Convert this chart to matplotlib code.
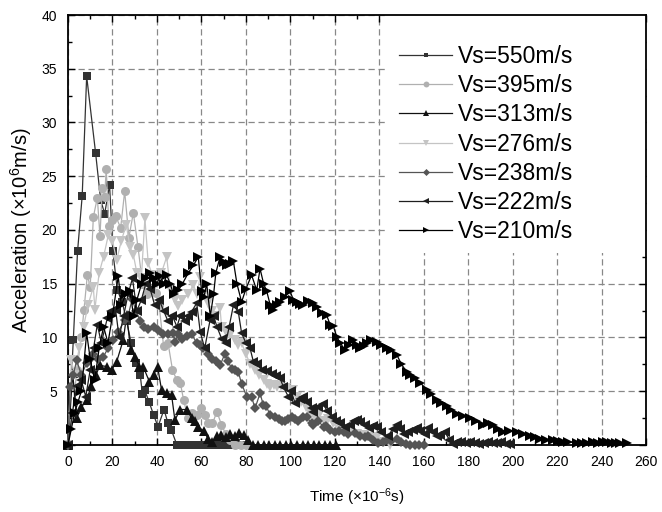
import matplotlib
matplotlib.use("Agg")
import matplotlib.pyplot as plt
import matplotlib.patches as patches
from matplotlib.ticker import MultipleLocator

plt.rcParams['font.family'] = ['Liberation Sans', 'DejaVu Sans']
plt.rcParams['mathtext.fontset'] = 'custom'
plt.rcParams['mathtext.rm'] = 'Liberation Sans'
plt.rcParams['mathtext.it'] = 'Liberation Sans:italic'

# Vs = 550 m/s
t550 = [0, 2.4, 4.3, 6.4, 8.4, 12.4, 14.7, 16.5, 18.7, 20.2, 22.2, 24.4, 26.4, 28.4, 30.4,
        32.5, 33.5, 34.5, 36.5, 38.5, 40.5, 43.2, 45, 46.5, 49, 51, 53, 56, 58, 60, 63,
        66, 68, 71, 74, 77, 80]
a550 = [0, 9.8, 18, 23.2, 34.3, 27.2, 22.8, 21.5, 24.2, 18, 14.4, 13.3, 11.5, 9.5, 7.6,
        6.5, 4.7, 5.1, 4, 2.8, 1.7, 3.3, 2, 1.4, 0, 0, 0, 0, 0, 0, 0,
        0, 0, 0, 0, 0, 0]

# Vs = 395 m/s
t395 = [0, 2, 4, 6, 7.2, 8.7, 10, 11.4, 13.2, 14.4, 15.4, 16.5, 17.2, 18.4, 19.9, 21.4,
        23.7, 25.5, 27.4, 29.4, 31.5, 33.5, 35.5, 37.5, 39.4, 41, 43, 45, 47, 49, 50.5,
        52, 54, 56, 58, 60, 61.6, 63, 65, 67, 69, 71, 73, 75, 78, 80]
a395 = [0, 3, 7, 10, 12.6, 15.8, 14.7, 21.2, 23, 19.4, 23.9, 23.1, 25.7, 20.4, 20.9, 21.3,
        20.2, 23.6, 19.3, 21.6, 18.4, 15, 14, 14.5, 14.1, 13, 9.2, 9.5, 7, 6, 5.8,
        4.2, 2.5, 3, 2.8, 3.4, 2.8, 2, 2, 3.1, 1.9, 1, 0.5, 0, 0, 0]

# Vs = 313 m/s
t313 = [0, 2.1, 3.9, 6, 8.4, 10.5, 12.5, 14.4, 17.4, 19.7, 21.9, 24.9, 26.4, 28.2, 30.1,
        32.1, 33.8, 36.6, 38.5, 40.3, 42.1, 44.7, 46.6, 48.1, 50.4, 53.4, 55.6, 57.2,
        58.6, 61, 63, 65, 67, 69, 71, 73, 75, 77, 79, 81, 83, 85.5, 88, 90.5, 93, 95.5,
        98, 100.5, 103, 105.5, 108, 110.5, 113, 115.5, 118, 120.5]
a313 = [0, 6.7, 2.5, 3.5, 4.2, 5.5, 6.5, 7.4, 7.3, 7, 7.75, 9.8, 12.1, 8.8, 8.2,
        7.3, 7.3, 5.9, 6.5, 7.3, 5.1, 4.8, 4.65, 2.3, 3.3, 3.3, 2.5, 2.2,
        1.7, 1.3, 0.6, 0.3, 0.8, 0.9, 0.7, 1.0, 0.8, 1.1, 0.9, 0.5, 0, 0, 0, 0, 0, 0,
        0, 0, 0, 0, 0, 0, 0, 0, 0, 0]

# Vs = 276 m/s
t276 = [0, 1.5, 3, 5, 7, 9, 11.4, 12.1, 14, 16, 18.1, 20, 21.9, 24, 26.2, 27.9, 29.4, 31,
        33, 34.6, 36.1, 38, 40, 42, 44.4, 46, 48, 49.6, 51.5, 54, 56.4, 58, 59.4, 61, 63,
        65, 66.5, 68.4, 69.1, 71, 73, 75, 76.5, 78.1, 80, 82, 84, 86, 88, 89.4, 90.9,
        92.5, 93.9, 96, 98, 100, 101.4, 103, 105, 107, 109, 111, 113, 115, 117, 119, 121,
        124, 127, 130, 133, 136, 139, 142, 145]
a276 = [0, 7.9, 6.5, 9, 11, 13, 14.7, 12.6, 16, 17.5, 19.5, 19, 17.2, 19, 20.5, 18.4, 17.7, 16,
        15.5, 21.1, 16.9, 15.8, 15, 16, 17.5, 14.5, 13.5, 12.9, 13.5, 14, 14.9, 14, 15.6, 14, 13.2,
        12.5, 12, 12.7, 11, 10.5, 10.2, 9.8, 9.3, 9.5, 8.5, 7.5, 7, 6.5, 6, 5.7, 5.4,
        5.6, 5.4, 5.5, 5.3, 5.1, 5.1, 4.5, 4, 3.5, 3, 2.5, 2.8, 2.2, 2.4, 2, 1.8,
        1.5, 1.3, 1, 0.9, 0.7, 0.7, 0.3, 0]

# Vs = 238 m/s
t238 = [0, 0.9, 2.4, 3.9, 6, 8.4, 10, 11.4, 13.5, 15.9, 18, 20.4, 22.5, 25.6, 27, 28.9,
        30.5, 32.5, 34, 36.1, 38.5, 40.6, 42.9, 45.1, 47.4, 48.1, 49.6, 51.1, 53.4, 55.6,
        57.9, 59.4, 60.9, 63, 65, 66.5, 68.4, 70.6, 72, 73.6, 75.1, 76.6, 78.1, 80.4, 82.6,
        84.1, 86.4, 87.9, 89.2, 90.9, 93.1, 95, 96.1, 97.6, 99, 100.6, 102, 103.6, 105.9,
        107.4, 109.6, 110.4, 112.6, 115, 116, 117.9, 120, 122, 124, 126, 129.1, 131.4,
        133.5, 135, 137, 139.6, 141.5, 143.4, 145.5, 147.9, 150, 152, 154, 156, 158, 160]
a238 = [0, 5.4, 6.5, 7.9, 6.5, 7.6, 8, 8.5, 8, 8.2, 9, 9.8, 10.5, 11.6, 12, 13.6,
        12.5, 11.5, 11, 10.8, 11, 10.7, 10.3, 10.3, 10.4, 9.6, 10.3, 9.9, 10.1, 10.3,
        9.5, 9.3, 9, 8.5, 8, 7.8, 7.4, 8.5, 7.8, 7.1, 7, 6.8, 5.7, 4.5, 4.5,
        3.4, 4.8, 3.7, 3.6, 2.8, 2.6, 2.4, 2.2, 2.2, 2.4, 2.6, 2.4, 2.2, 2.6,
        2.6, 2, 1.9, 2.2, 1.7, 1.8, 1.4, 1.2, 1.3, 1.2, 1, 1.1, 0.8,
        0.7, 0.8, 0.5, 0.15, 0.3, 0.5, 0.4, 0.6, 0.3, 0.1, 0, 0, 0, 0]

# Vs = 222 m/s
t222 = [0, 2, 4, 6, 8, 10, 11.5, 13.2, 15, 17.7, 19.5, 21.4, 23, 25, 27, 29, 31, 33, 35,
        37, 39, 41, 43, 45, 47, 49, 50.5, 52.6, 54, 55.6, 57.9, 59.5, 61.5, 63.9, 65.5,
        67, 69.1, 71, 72.5, 74.4, 76.6, 78.1, 80, 81.9, 83.4, 85, 87.1, 89.4, 91.6, 93.5,
        95.4, 96.9, 99.1, 100.5, 102.1, 104.4, 105.9, 107.5, 109.6, 110.4, 112.5, 114.8,
        116.5, 118.6, 120.5, 122.5, 124.6, 126.9, 128.5, 129.9, 131.5, 133.6, 135.5, 137,
        138.9, 141, 144.1, 146, 147.9, 149.5, 151, 153.1, 155, 156.9, 158.5, 160.5, 162.1,
        164, 165.9, 167.5, 169.6, 171.5, 173.4, 175, 177, 179, 181, 183, 185, 187, 189,
        191, 193, 195, 197, 199]
a222 = [0, 3, 5.5, 6, 4.5, 7, 9, 11.2, 9.5, 11.8, 12.5, 12.6, 10, 12, 14, 15.5, 12.5, 13.5, 15,
        14.5, 13, 13.5, 12.5, 11.5, 12, 11, 12, 11.5, 12, 12.4, 13.2, 10.5, 9, 11.6, 12,
        11, 9.9, 9.5, 11, 13, 12.4, 10.4, 9.5, 9, 7.75, 7.5, 7, 6.9, 6.6, 6.4,
        6.2, 5.4, 4.5, 5, 3.9, 4.3, 4.5, 4, 3.4, 3.1, 3.5, 3.8,
        3.2, 2.6, 2.2, 2, 1.7, 1.9, 2.2, 2.3, 2.1, 1.9, 1.6, 1.8,
        1.7, 1.2, 0.8, 1.5, 1.9, 1.5, 1.0, 1.2, 1.4, 1.6, 1.3, 1.0, 1.55,
        1.2, 0.8, 0.9, 1.2, 0.5, 0.1, 0.3, 0.3, 0.2, 0.3, 0.2, 0.1, 0.2, 0.3,
        0.2, 0.2, 0.3, 0.1, 0.1]

# Vs = 210 m/s
t210 = [0, 1.5, 3, 4.5, 6, 8.4, 10, 12, 14, 16, 18, 20, 22.6, 24, 26, 27.9, 29.5, 31, 33.1,
        35, 36.9, 38.5, 40, 41.4, 43, 44.4, 46, 47.5, 49.6, 51.5, 54.1, 56.4, 58.6, 60.1,
        61.2, 62.4, 64, 65.5, 66.5, 68.4, 70, 71.4, 73, 74.4, 76, 78.1, 80, 82.6, 84.9,
        86.4, 88, 89.4, 91, 92.4, 94, 95.4, 97.5, 99.9, 101.4, 102.9, 104.5, 105.9, 108,
        110.4, 112, 114.1, 116.3, 117.9, 119.3, 121, 122.5, 124.6, 126.5, 128.4, 130,
        131.4, 133, 134.4, 136.5, 138.9, 141, 143.4, 145.5, 147.9, 150, 152.4, 154, 156.1,
        158.5, 161.4, 163.5, 165.9, 168, 170.4, 172.5, 174.9, 177.5, 180.8, 183.5, 186.8,
        189, 191.3, 193.5, 195.8, 198.5, 201.8, 204.5, 207.8, 210, 212.3, 215, 218.3,
        220.5, 222.8, 225, 228.8, 231, 233.5, 236.3, 238.5, 240.5, 242.3, 244.5, 246.5,
        248.3, 251.3]
a210 = [0, 1.5, 3, 4, 5, 10.4, 8, 6, 9, 11, 9.5, 12, 15.7, 13, 14, 14.3, 12, 13.5, 15,
        15.5, 16, 15.5, 15, 15.7, 15, 15.8, 15, 14, 14.4, 15, 16, 16.7, 17.5, 14.3,
        13.8, 15, 12, 14, 16, 17.5, 17, 16.7, 16.8, 17.1, 15, 13.3, 14.5, 15.8, 14.4,
        16.4, 15, 14.3, 13, 12.6, 13, 13.3, 13.8, 14.3, 13.5, 13.3, 13.1, 13, 13.4,
        13.2, 12.8, 12.25, 12.1, 11.2, 11.1, 10, 9.5, 8.8, 9.3, 9.8, 9.3,
        9, 9.2, 9.5, 9.8, 9.6, 9.3, 9, 8.8, 8.4, 7.5, 6.8, 6.5, 6.2,
        5.8, 5.1, 4.7, 4.2, 3.9, 3.6, 3.3, 2.9, 2.7, 2.5, 2.2, 1.9,
        2, 1.9, 1.5, 1.2, 1.3, 1.2, 1, 0.8, 0.7, 0.6, 0.5, 0.5,
        0.4, 0.3, 0.3, 0.2, 0.2, 0.2, 0.3, 0.2, 0.3, 0.3, 0.2, 0.2,
        0.2, 0.2]

series = [
    (t550, a550, 'Vs=550m/s', '#333333', 's', 5.5),
    (t395, a395, 'Vs=395m/s', '#b0b0b0', 'o', 6.5),
    (t313, a313, 'Vs=313m/s', '#111111', '^', 7.5),
    (t276, a276, 'Vs=276m/s', '#c4c4c4', 'v', 7.5),
    (t238, a238, 'Vs=238m/s', '#555555', 'D', 5.5),
    (t222, a222, 'Vs=222m/s', '#1e1e1e', '<', 7.5),
    (t210, a210, 'Vs=210m/s', '#000000', '>', 7.5),
]

fig = plt.figure(figsize=(6.62, 5.12), dpi=100)
ax = fig.add_axes([0.1027, 0.1309, 0.8731, 0.8398])

for t, a, lab, col, mk, ms in series:
    ax.plot(t, a, color=col, marker=mk, markersize=ms, linewidth=0.9,
            markeredgewidth=0, label=lab, clip_on=False, zorder=3)

ax.set_xlim(0, 260)
ax.set_ylim(0, 40)
ax.xaxis.set_major_locator(MultipleLocator(20))
ax.xaxis.set_minor_locator(MultipleLocator(10))
ax.set_yticks([0, 5, 10, 15, 20, 25, 30, 35, 40])
ax.set_yticklabels(['', '5', '10', '15', '20', '25', '30', '35', '40'])
ax.yaxis.set_minor_locator(MultipleLocator(2.5))
ax.tick_params(which='both', direction='in', top=True, right=True, labelsize=10, width=1)
ax.tick_params(which='major', length=5)
ax.tick_params(axis='x', which='major', pad=7)
ax.tick_params(axis='y', which='major', pad=8)
ax.tick_params(which='minor', length=3)
for s in ax.spines.values():
    s.set_linewidth(1.3)

ax.grid(True, which='major', color='#888888', linestyle=(0, (5, 3)), linewidth=0.9, zorder=0)
ax.set_axisbelow(True)

# white block behind the legend hides the grid there
ax.add_patch(patches.Rectangle((0.548, 0.4465), 0.452, 0.5535, transform=ax.transAxes,
                               facecolor='white', edgecolor='none', zorder=1))

ax.set_xlabel('Time (×10$^{-6}$s)', fontsize=11, labelpad=13)
ax.set_ylabel('Acceleration (×10$^{6}$m/s)', fontsize=14.5, labelpad=5)

leg = ax.legend(loc='upper left', bbox_to_anchor=(0.5735, 0.93), fontsize=16.5,
                frameon=False, handlelength=2.3, handletextpad=0.25,
                labelspacing=0.27, borderaxespad=0, borderpad=0, markerscale=0.65)
leg.set_zorder(5)

fig.savefig('out.png', dpi=100)
